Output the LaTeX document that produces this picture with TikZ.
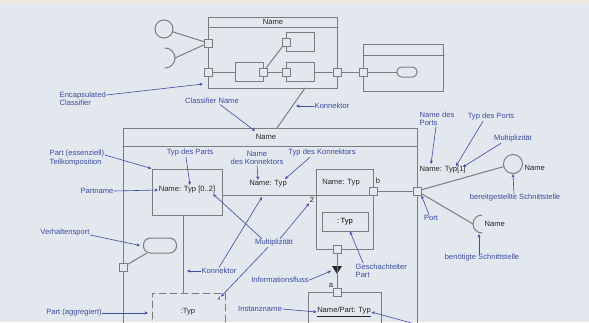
\documentclass[tikz,border=0pt]{standalone}
\usepackage{fontspec}
\setmainfont{Liberation Sans}
\usetikzlibrary{arrows.meta}
\definecolor{bgblue}{HTML}{E3E8EF}
\definecolor{topbeige}{HTML}{EEE8DE}
\definecolor{umlgray}{HTML}{7A7D80}
\definecolor{lblblue}{HTML}{3C4CA0}
\definecolor{umltext}{HTML}{262626}

\begin{document}
\begin{tikzpicture}[x=1pt,y=-1pt,font=\fontsize{7.6}{8.4}\selectfont,line cap=round,
  ln/.style={draw=umlgray,line width=1pt},
  umlbox/.style={ln,rectangle,inner sep=0pt},
  port/.style={ln,fill=bgblue,rectangle,minimum size=8pt,inner sep=0pt},
  lbl/.style={text=lblblue,inner sep=0.5pt,align=left},
  uml/.style={text=umltext,inner sep=0.5pt},
  ptr/.style={draw=lblblue,line width=0.6pt,-{Stealth[length=3.5pt,width=3pt]}}]
\useasboundingbox (0,0) rectangle (589,322);
\fill[bgblue] (0,0) rectangle (589,322);
\fill[topbeige] (0,0) rectangle (589,3);
\begin{scope}
\clip (0,0) rectangle (589,322);
% encapsulated classifier at the top
\node[umlbox,minimum width=129pt,minimum height=71pt,anchor=north west] (topcls) at (208,17) {};
\draw[ln] ([yshift=-10pt]topcls.north west) -- ([yshift=-10pt]topcls.north east);
\node[uml] (topname) at (273,22) {Name};
\node[umlbox,minimum width=28pt,minimum height=19pt] (ra) at (249,72) {};
\node[umlbox,minimum width=28pt,minimum height=19pt] (rb) at (300,42) {};
\node[umlbox,minimum width=28pt,minimum height=19pt] (rc) at (300,72) {};
\node[port] (pa1) at (208,43) {};
\node[port] (pa2) at (208,72) {};
\node[port] (pa3) at (337,72) {};
\node[port] (qa) at (263,72) {};
\node[port] (qb) at (286,42) {};
\node[port] (qc) at (286,72) {};
\node[circle,ln,minimum size=18pt,inner sep=0pt] (ifa) at (164,29) {};
\coordinate (ska) at (175,58);
\draw[ln] ([shift={(165,58)}]90:10pt) arc[start angle=90,end angle=-90,radius=10pt];
\draw[ln] (ifa) -- (pa1);
\draw[ln] (ska) -- (pa1);
\draw[ln] (pa2) -- (ra.west);
\draw[ln] (qa) -- (qb);
\draw[ln] (qa) -- (qc);
\draw[ln] (rc.east) -- (pa3);
% second classifier
\node[umlbox,minimum width=80pt,minimum height=47pt,anchor=north west] (rcls) at (363,44) {};
\draw[ln] ([yshift=-11pt]rcls.north west) -- ([yshift=-11pt]rcls.north east);
\node[port] (pr1) at (363,72) {};
\node[ln,rounded corners=4.5pt,minimum width=20pt,minimum height=10pt,inner sep=0pt] (sta) at (407,72) {};
\draw[ln] (pa3) -- (pr1);
\draw[ln] (pr1) -- (sta);
% connector between the classifiers
\coordinate (kta) at (305,88);
\coordinate (ktb) at (277,128);
\draw[ln] (kta) -- (ktb);
% big classifier
\draw[ln] (123,330) -- (123,128) -- (417,128) -- (417,330);
\draw[ln] (123,146) -- (417,146);
\node[uml] (bigname) at (266,137) {Name};
\node[umlbox,minimum width=70pt,minimum height=46pt] (pt1) at (187,192) {};
\node[uml] (pt1txt) at (187,190) {Name: Typ [0..2]};
\node[umlbox,minimum width=57pt,minimum height=80pt,anchor=north west] (pt3) at (316,169) {};
\coordinate (dv) at (316,195);
\draw[ln] (dv -| pt1.east) -- (dv -| pt3.east);
\node[uml] (pt3txt) at (341,183) {Name: Typ};
\node[umlbox,minimum width=46pt,minimum height=19pt] (pt3in) at (345,221.5) {:\,Typ};
\node[uml] (cnm) at (268,184) {Name: Typ};
\node[uml] (mult2) at (312,200) {2};
\node[port] (pb) at (373,191) {};
\node[uml] (lb) at (378,181) {b};
\node[port] (pB) at (417,191) {};
\node[port] (pc3) at (337,249) {};
\draw[ln] (pb) -- (pB);
% interfaces on the right
\node[circle,ln,minimum size=19pt,inner sep=0pt] (ifb) at (513,164) {};
\node[uml,anchor=west] (ifbname) at (524,168) {Name};
\coordinate (skb) at (473,224);
\draw[ln] ([shift={(482,224)}]90:9pt) arc[start angle=90,end angle=270,radius=9pt];
\node[uml,anchor=west] (skbname) at (484,224) {Name};
\draw[ln] (pB) -- (ifb);
\draw[ln] (pB) -- (skb);
% behaviour port, lower parts
\node[ln,rounded corners=7pt,minimum width=33pt,minimum height=15pt,inner sep=0pt] (stb) at (160,245.5) {};
\node[port] (pv) at (123,267) {};
\draw[ln] (pv) -- (stb);
\coordinate (kv) at (183,293);
\draw[ln] (kv |- pt1.south) -- (kv);
\draw[ln,dash pattern=on 7pt off 4pt] (152,330) -- (152,293) -- (225,293) -- (225,330);
\node[uml] (pt2txt) at (188,312) {:Typ};
\node[uml,font=\fontsize{5}{6}\selectfont] (mult4) at (219,299) {4};
\fill[umltext] (332,266) -- (342,266) -- (337,274) -- cycle;
\node[port] (pal) at (337,292) {};
\draw[ln] (pc3) -- (pal);
\node[uml] (la) at (331,285) {a};
\draw[ln] (308,330) -- (308,292) -- (381,292) -- (381,330);
\node[port] at (pal) {};
\node[uml] (inst) at (344,312) {\underline{Name/Part: Typ}};
% blue labels
\node[lbl,anchor=west] (encl) at (59,99) {Encapsulated\\Classifier};
\coordinate (enclTip) at (203,84);
\draw[ptr] ([yshift=4pt]encl.east) -- (enclTip);
\node[lbl] (clsname) at (212,101) {Classifier Name};
\coordinate (clsTip) at (255,131);
\draw[ptr] ([xshift=8pt]clsname.south) -- (clsTip);
\node[lbl] (kon1) at (332,106) {Konnektor};
\coordinate (kon1Tip) at (296,106);
\draw[ptr] (kon1.west) -- (kon1Tip);
\node[lbl,anchor=west] (pess) at (49,158) {Part (essenziell)\\Teilkomposition};
\draw[ptr] ([yshift=3pt]pess.east) -- (pt1.north west);
\node[lbl] (pname) at (97,191) {Partname};
\draw[ptr] (pname.east) -- (pt1txt.west);
\node[lbl] (tparts) at (190,153) {Typ des Parts};
\coordinate (tpartsTip) at (190,185);
\draw[ptr] ([xshift=-4pt]tparts.south) -- (tpartsTip);
\node[lbl,align=center] (nkon) at (257,158) {Name\\des Konnektors};
\draw[ptr] (nkon.south) -- ([xshift=-10pt]cnm.north);
\node[lbl] (tkon) at (322,153) {Typ des Konnektors};
\coordinate (tkonTip) at (285,179);
\draw[ptr] ([xshift=-12pt]tkon.south) -- (tkonTip);
\node[lbl,anchor=west] (nports) at (419,119) {Name des\\Ports};
\coordinate (nportsTip) at (431,164);
\draw[ptr] ([xshift=-1pt]nports.south) -- (nportsTip);
\node[uml,anchor=west] (ptyp) at (419,170) {Name: Typ[1]};
\node[lbl] (tports) at (491,117) {Typ des Ports};
\coordinate (tportsTip) at (456,166);
\draw[ptr] ([xshift=-8pt]tports.south) -- (tportsTip);
\node[lbl] (multr) at (513,139) {Multiplizität};
\coordinate (multrTip) at (463,167);
\draw[ptr] ([xshift=-12pt]multr.south) -- (multrTip);
\node[lbl] (bereit) at (515,198) {bereitgestellte Schnittstelle};
\draw[ptr] ([xshift=-1pt]bereit.north) -- (ifb.south);
\node[lbl] (benoet) at (482,258) {benötigte Schnittstelle};
\coordinate (benoetTip) at (479,234);
\draw[ptr] ([xshift=-3pt]benoet.north) -- (benoetTip);
\node[lbl] (lport) at (431,218) {Port};
\draw[ptr] ([xshift=-2pt]lport.north) -- (pB.south east);
\node[lbl] (vport) at (65,233) {Verhaltensport};
\draw[ptr] ([yshift=-2pt]vport.east) -- ([xshift=-3pt]stb.west);
\node[lbl] (kon2) at (219,271) {Konnektor};
\coordinate (kon2Tip) at (187,271);
\coordinate (kon2Tip2) at (262,197);
\draw[ptr] (kon2.west) -- (kon2Tip);
\draw[ptr] (kon2.north) -- (kon2Tip2);
\node[lbl] (multc) at (274,243) {Multiplizität};
\coordinate (multTipA) at (213,194);
\draw[ptr] ([xshift=-12pt]multc.north) -- (multTipA);
\draw[ptr] ([xshift=6pt]multc.north) -- (mult2.south west);
\draw[ptr] ([xshift=-6pt]multc.south) -- (mult4.north east);
\node[lbl] (infofl) at (280,280) {Informationsfluss};
\coordinate (infoTip) at (331,271);
\draw[ptr] (infofl.east) -- (infoTip);
\node[lbl,anchor=west] (gesch) at (355,270.5) {Geschachtelter\\Part};
\draw[ptr] ([xshift=8pt]gesch.north west) -- ([xshift=5pt]pt3in.south);
\node[lbl] (paggr) at (74,313) {Part (aggregiert)};
\coordinate (paggrTip) at (148,313);
\draw[ptr] (paggr.east) -- (paggrTip);
\node[lbl] (iname) at (260,309) {Instanzname};
\draw[ptr] (iname.east) -- (inst.west);
\coordinate (instFrom) at (415,324);
\draw[ptr] (instFrom) -- (inst.east);
\end{scope}
\end{tikzpicture}
\end{document}
